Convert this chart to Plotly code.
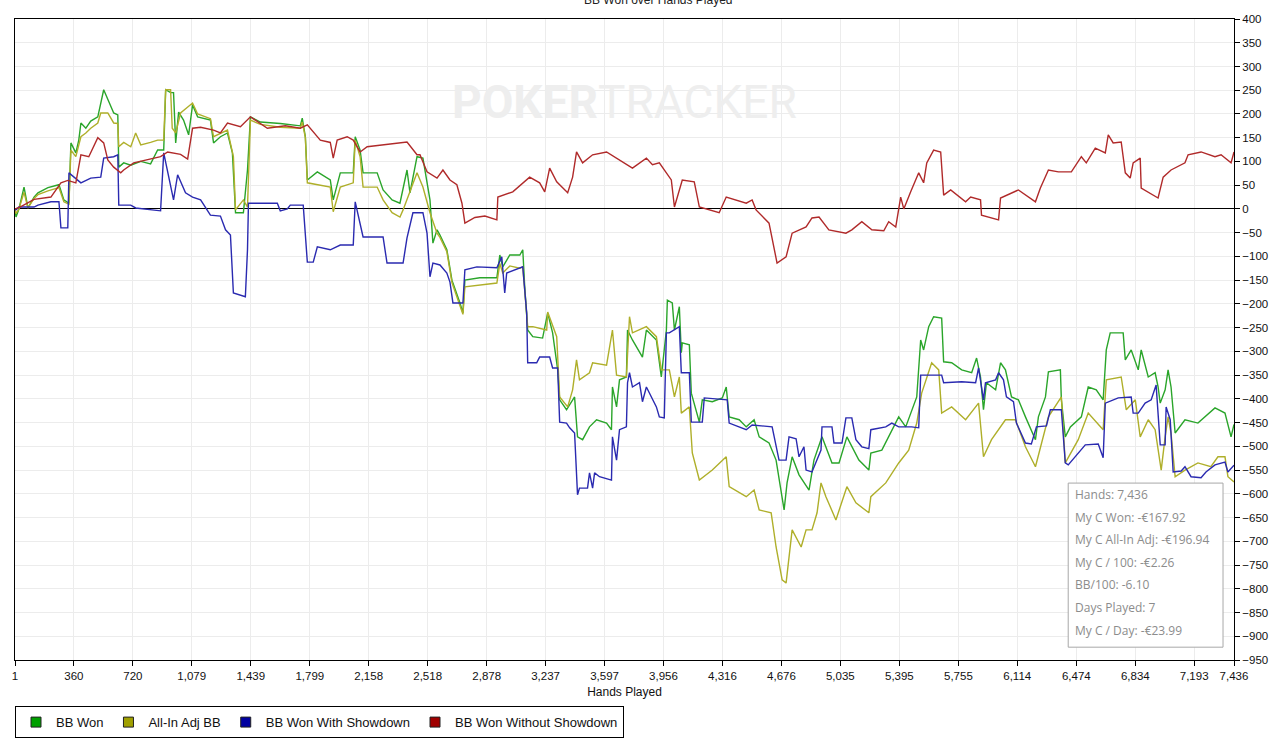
import plotly.graph_objects as go

# hands / BB values
hands_won = [1, 7, 25, 56, 80, 117, 141, 202, 269, 299, 330, 342, 372, 390, 403, 433, 463, 506, 542, 567,
             603, 628, 634, 664, 707, 768, 828, 871, 908, 920, 950, 968, 981, 999, 1029, 1060, 1084, 1115, 1193, 1212,
             1254, 1297, 1327, 1346, 1394, 1419, 1437, 1498, 1619, 1741, 1753, 1772, 1784, 1845, 1924, 1942, 1985, 2064, 2076, 2106,
             2124, 2210, 2246, 2301, 2349, 2392, 2410, 2453, 2489, 2532, 2550, 2575, 2593, 2635, 2666, 2715, 2733, 2745, 2836, 2940,
             2958, 2976, 3019, 3080, 3098, 3110, 3128, 3159, 3219, 3250, 3280, 3311, 3323, 3365, 3414, 3432, 3463, 3505, 3548, 3609,
             3639, 3645, 3670, 3688, 3730, 3737, 3767, 3828, 3852, 3913, 3943, 3974, 3980, 4010, 4023, 4053, 4065, 4071, 4114, 4126,
             4175, 4193, 4254, 4315, 4339, 4357, 4418, 4461, 4509, 4540, 4600, 4643, 4692, 4710, 4741, 4783, 4813, 4844, 4874, 4923,
             4984, 5027, 5075, 5148, 5209, 5221, 5288, 5349, 5391, 5434, 5464, 5501, 5525, 5543, 5574, 5604, 5653, 5665, 5714, 5775,
             5836, 5866, 5890, 5908, 5926, 5982, 6012, 6042, 6079, 6121, 6164, 6200, 6225, 6243, 6286, 6304, 6377, 6383, 6407, 6438,
             6505, 6547, 6596, 6638, 6657, 6681, 6760, 6773, 6809, 6852, 6870, 6913, 6955, 6973, 6986, 7016, 7034, 7052, 7077, 7137,
             7216, 7320, 7381, 7418, 7436]
bb_won = [0, -17, 0, 46, 2, 25, 34, 45, 51, 19, 12, 139, 118, 145, 181, 170, 185, 194, 251, 230,
          202, 198, 88, 97, 92, 100, 95, 124, 124, 251, 245, 245, 139, 204, 187, 156, 219, 194, 187, 139,
          152, 160, 118, -8, -8, 82, 194, 183, 180, 175, 191, 152, 61, 78, 61, 19, 76, 76, 152, 124,
          76, 76, 40, 19, 12, 82, 34, 110, 107, 19, -72, -44, -55, -86, -150, -198, -219, -150, -145, -145,
          -97, -122, -97, -97, -86, -164, -255, -269, -272, -219, -261, -339, -402, -423, -396, -480, -486, -459, -444, -451,
          -465, -375, -417, -360, -354, -255, -276, -312, -255, -276, -354, -255, -192, -198, -255, -206, -303, -282, -286, -388,
          -449, -402, -406, -398, -375, -438, -444, -459, -444, -480, -493, -529, -634, -577, -522, -560, -577, -592, -529, -480,
          -535, -535, -480, -529, -550, -514, -508, -465, -438, -459, -430, -396, -276, -297, -248, -227, -230, -322, -324, -339,
          -345, -314, -354, -423, -366, -381, -324, -339, -396, -402, -438, -465, -486, -438, -396, -343, -339, -402, -480, -459,
          -438, -375, -381, -402, -297, -261, -261, -318, -297, -339, -297, -354, -345, -375, -409, -381, -339, -375, -472, -444,
          -451, -419, -430, -480, -454]

hands_adj = [1, 7, 25, 56, 80, 117, 141, 202, 269, 299, 330, 342, 372, 403, 433, 463, 506, 524, 567, 603,
             628, 634, 664, 707, 737, 768, 828, 871, 908, 920, 950, 960, 981, 1011, 1084, 1115, 1193, 1212, 1297, 1333,
             1346, 1394, 1419, 1437, 1498, 1619, 1741, 1753, 1772, 1784, 1924, 1942, 1985, 2064, 2076, 2106, 2124, 2210, 2246, 2301,
             2349, 2368, 2453, 2489, 2532, 2575, 2593, 2635, 2666, 2715, 2733, 2745, 2836, 2940, 2958, 2976, 3019, 3080, 3098, 3128,
             3159, 3244, 3250, 3305, 3323, 3372, 3402, 3426, 3444, 3505, 3524, 3609, 3645, 3670, 3730, 3749, 3767, 3852, 3913, 3943,
             3992, 4023, 4053, 4065, 4114, 4132, 4175, 4254, 4339, 4357, 4461, 4509, 4540, 4613, 4643, 4680, 4704, 4741, 4796, 4826,
             4862, 4893, 4917, 4947, 5008, 5075, 5130, 5209, 5221, 5312, 5391, 5452, 5501, 5531, 5592, 5635, 5653, 5714, 5799, 5878,
             5908, 5957, 6042, 6103, 6164, 6225, 6304, 6383, 6407, 6486, 6547, 6638, 6657, 6748, 6779, 6834, 6864, 6913, 6955, 6992,
             7016, 7034, 7052, 7077, 7137, 7216, 7295, 7338, 7381, 7399, 7436]
bb_adj = [0, -10, 0, 35, 2, 22, 30, 38, 45, 15, 10, 124, 110, 152, 160, 170, 181, 202, 202, 181,
          180, 131, 140, 131, 160, 135, 140, 145, 145, 251, 251, 170, 160, 202, 223, 200, 190, 152, 166, 110,
          -2, 19, 4, 187, 178, 172, 170, 183, 150, 55, 46, -6, 46, 55, 145, 110, 46, 46, 19, -8,
          -17, -2, 76, 46, -8, -51, -60, -90, -155, -205, -222, -164, -160, -156, -115, -135, -120, -125, -122, -248,
          -248, -255, -217, -269, -396, -417, -381, -318, -360, -345, -324, -329, -255, -350, -354, -227, -261, -248, -269, -339,
          -339, -396, -354, -430, -417, -514, -571, -550, -522, -585, -606, -592, -634, -640, -712, -781, -788, -676, -712, -676,
          -676, -640, -577, -606, -655, -585, -619, -640, -606, -577, -535, -508, -451, -388, -324, -339, -430, -417, -444, -409,
          -522, -486, -444, -444, -501, -543, -438, -396, -535, -486, -430, -465, -360, -354, -423, -402, -480, -444, -465, -550,
          -480, -438, -472, -564, -550, -535, -543, -522, -522, -564, -575]

hands_sd = [1, 7, 25, 117, 141, 220, 269, 281, 323, 330, 403, 463, 524, 542, 603, 628, 634, 707, 737, 889,
            908, 968, 993, 1041, 1084, 1133, 1193, 1254, 1285, 1315, 1333, 1406, 1419, 1425, 1601, 1619, 1662, 1680, 1759, 1784,
            1820, 1845, 1924, 1985, 2064, 2076, 2124, 2246, 2270, 2368, 2392, 2428, 2489, 2514, 2532, 2550, 2593, 2635, 2654, 2672,
            2733, 2745, 2818, 2940, 2970, 2988, 3000, 3098, 3122, 3128, 3183, 3201, 3262, 3280, 3311, 3323, 3365, 3384, 3414, 3432,
            3444, 3493, 3505, 3524, 3536, 3566, 3639, 3645, 3670, 3688, 3730, 3737, 3749, 3767, 3810, 3828, 3852, 3913, 3931, 3961,
            3974, 3992, 4053, 4065, 4114, 4126, 4193, 4205, 4345, 4357, 4461, 4497, 4619, 4661, 4704, 4722, 4765, 4783, 4813, 4826,
            4862, 4917, 4923, 4984, 4996, 5045, 5069, 5105, 5130, 5166, 5209, 5221, 5312, 5349, 5391, 5470, 5513, 5525, 5653, 5665,
            5775, 5860, 5878, 5908, 5920, 5982, 6000, 6030, 6048, 6091, 6109, 6164, 6200, 6231, 6292, 6316, 6383, 6395, 6407, 6425,
            6486, 6529, 6608, 6638, 6651, 6730, 6809, 6821, 6852, 6894, 6931, 6961, 6986, 7016, 7022, 7047, 7065, 7114, 7137, 7174,
            7235, 7265, 7320, 7381, 7399, 7436]
bb_sd = [0, -2, 4, 4, 8, 15, 15, -40, -40, 76, 55, 65, 67, 107, 110, 114, 8, 8, 2, -4,
         118, 19, 72, 34, 25, 19, -13, -15, -44, -55, -177, -185, -86, 12, 12, -4, 0, 8, 8, -112,
         -112, -80, -86, -76, -76, 15, -59, -59, -114, -114, -61, -8, -8, -51, -143, -114, -118, -135, -154, -198,
         -198, -128, -122, -124, -101, -177, -135, -122, -219, -324, -324, -312, -312, -335, -335, -449, -451, -461, -472, -602,
         -588, -588, -556, -588, -556, -564, -571, -480, -529, -465, -459, -366, -345, -375, -366, -406, -375, -417, -438, -440,
         -261, -261, -248, -345, -345, -449, -449, -398, -402, -451, -465, -455, -459, -529, -529, -480, -484, -522, -501, -550,
         -554, -508, -459, -459, -493, -493, -440, -440, -486, -501, -505, -465, -459, -451, -459, -459, -461, -350, -350, -366,
         -364, -366, -335, -402, -366, -360, -345, -360, -396, -406, -451, -493, -495, -459, -457, -423, -423, -486, -535, -539,
         -514, -497, -495, -524, -409, -398, -396, -430, -430, -409, -402, -371, -497, -497, -417, -444, -554, -552, -543, -564,
         -566, -554, -539, -533, -554, -540]

hands_nsd = [1, 37, 117, 220, 281, 323, 372, 403, 451, 506, 542, 567, 603, 646, 664, 725, 889, 932, 1011, 1054,
             1084, 1133, 1212, 1254, 1297, 1376, 1437, 1540, 1650, 1741, 1784, 1863, 1924, 1942, 1966, 2027, 2064, 2106, 2149, 2258,
             2349, 2392, 2453, 2471, 2514, 2575, 2611, 2654, 2696, 2727, 2745, 2806, 2867, 2940, 2946, 3037, 3140, 3201, 3232, 3262,
             3305, 3372, 3402, 3426, 3463, 3524, 3609, 3688, 3767, 3852, 3889, 3931, 4004, 4023, 4071, 4144, 4175, 4296, 4339, 4461,
             4497, 4521, 4600, 4649, 4704, 4741, 4826, 4862, 4905, 4965, 5069, 5105, 5166, 5227, 5300, 5330, 5373, 5403, 5422, 5464,
             5513, 5543, 5562, 5604, 5647, 5665, 5708, 5799, 5830, 5890, 5896, 6000, 6012, 6121, 6225, 6255, 6304, 6365, 6444, 6505,
             6535, 6590, 6651, 6669, 6699, 6748, 6773, 6803, 6821, 6864, 6870, 6973, 7004, 7052, 7137, 7156, 7235, 7320, 7357, 7418,
             7436]
bb_nsd = [0, 5, 20, 25, 55, 60, 55, 114, 110, 150, 139, 103, 88, 76, 82, 97, 110, 120, 115, 105,
          170, 172, 166, 160, 181, 173, 194, 170, 175, 170, 177, 145, 140, 107, 145, 152, 145, 120, 131, 135,
          139, 141, 114, 114, 78, 65, 82, 61, 51, 12, -30, -18, -15, -23, 25, 36, 67, 55, 36, 86,
          57, 34, 67, 120, 97, 114, 120, 103, 86, 107, 93, 97, 61, 4, 61, 57, 4, -8, 25, 12,
          19, -2, -30, -114, -101, -51, -38, -19, -17, -44, -51, -44, -27, -44, -46, -27, -38, 25, 0, 36,
          76, 55, 97, 124, 120, 29, 40, 15, 25, 19, -13, -23, 23, 40, 15, 44, 82, 78, 78, 110,
          97, 128, 118, 156, 139, 141, 76, 65, 97, 107, 44, 23, 67, 82, 97, 114, 120, 110, 114, 97,
          120]

tick_hands = [1, 360, 720, 1079, 1439, 1799, 2158, 2518, 2878, 3237, 3597, 3956, 4316, 4676, 5035, 5395,
              5755, 6114, 6474, 6834, 7193, 7436]
tick_labels = [f"{h:,}" for h in tick_hands]

summary_lines = ["Hands: 7,436", "My C Won: -€167.92", "My C All-In Adj: -€196.94", "My C / 100: -€2.26",
                 "BB/100: -6.10", "Days Played: 7", "My C / Day: -€23.99"]

series = [
    ("BB Won", hands_won, bb_won, "#2aa52a", "#00a000"),
    ("All-In Adj BB", hands_adj, bb_adj, "#afaf2a", "#a0a000"),
    ("BB Won With Showdown", hands_sd, bb_sd, "#2a2ab0", "#0000a0"),
    ("BB Won Without Showdown", hands_nsd, bb_nsd, "#b02a2a", "#a00000"),
]

FONT = "Liberation Sans"

fig = go.Figure()

for name, xs, ys, line_col, box_col in series:
    fig.add_trace(go.Scatter(x=xs, y=ys, mode='lines', name=name, showlegend=False,
                             line=dict(color=line_col, width=1.4),
                             hovertemplate='Hands: %{x}<br>' + name + ': %{y}<extra></extra>'))

# square swatches for the legend, like the original
for name, xs, ys, line_col, box_col in series:
    fig.add_trace(go.Scatter(x=[None], y=[None], mode='markers', name=name,
                             marker=dict(symbol='square', size=10, color=box_col,
                                         line=dict(color='#222222', width=1))))

fig.update_xaxes(
    range=[1, 7436],
    tickvals=tick_hands,
    ticktext=tick_labels,
    ticks='outside',
    ticklen=5,
    tickcolor='black',
    showline=True,
    linecolor='black',
    linewidth=1,
    mirror=True,
    gridcolor='#ececec',
    zeroline=False,
    title=dict(text="Hands Played", standoff=6, font=dict(size=12, color='#111111')),
    tickfont=dict(size=11.5, color='#111111')
)
fig.update_yaxes(
    range=[-950, 400],
    side='right',
    dtick=50,
    ticks='outside',
    ticklen=5,
    tickcolor='black',
    showline=True,
    linecolor='black',
    linewidth=1,
    mirror=True,
    gridcolor='#ececec',
    zeroline=True,
    zerolinecolor='black',
    zerolinewidth=1.2,
    tickfont=dict(size=11.5, color='#111111')
)

# chart title, mostly cut off at the top of the window
fig.add_annotation(text="BB Won over Hands Played", xref='paper', yref='paper', x=0.528, y=1.044,
                   showarrow=False, font=dict(size=12, color='#222222'))

# watermark
fig.add_annotation(text="<b>POKER</b>TRACKER", xref='paper', yref='paper', x=0.5, y=0.915,
                   showarrow=False, font=dict(size=46, color='#eeeeee', family="Roboto"))

# summary box in the bottom right
fig.add_shape(type='rect', xref='paper', yref='paper', x0=0.864, x1=0.991, y0=0.02, y1=0.276,
              line=dict(color='#a8a8a8', width=1), fillcolor='white', layer='above')
for i, txt in enumerate(summary_lines):
    fig.add_annotation(text=txt, xref='paper', yref='paper', x=0.868, y=0.258 - i * 0.0352,
                       xanchor='left', yanchor='middle', showarrow=False,
                       font=dict(size=12, color='#8c8c8c', family="Open Sans"))

fig.update_layout(
    width=1280,
    height=751,
    autosize=False,
    plot_bgcolor='white',
    paper_bgcolor='white',
    font=dict(family=FONT, size=12, color='#111111'),
    margin=dict(l=14, r=44, t=19, b=91),
    showlegend=True,
    legend=dict(orientation='h', x=0, xanchor='left', y=-0.072, yanchor='top',
                bordercolor='black', borderwidth=1, bgcolor='white',
                font=dict(size=13, color='#111111'), itemwidth=30)
)

fig.write_html("out.html", post_script="document.body.style.margin='0';",
               config={'displayModeBar': False})
